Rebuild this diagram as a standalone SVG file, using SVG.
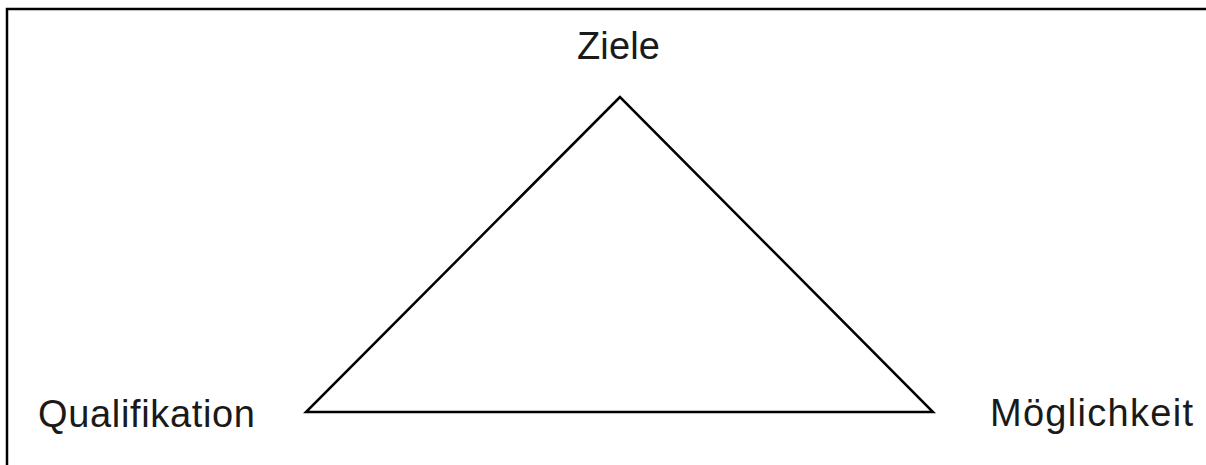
<svg xmlns="http://www.w3.org/2000/svg" width="1206" height="465" viewBox="0 0 1206 465">
<style>
.lbl{font-family:"Liberation Sans",Arial,sans-serif;font-size:38px;fill:#1a1a1a}
.edge{fill:none;stroke:#000;stroke-width:2.5;stroke-linejoin:miter}
</style>
<rect x="0" y="0" width="1206" height="465" fill="#fff"/>
<path d="M7 470 V9 H1210" fill="none" stroke="#000" stroke-width="2.5"/>
<g id="connectors">
<polygon class="edge" points="620,97 306,412 933,412"/>
</g>
<g id="node-ziele"><text class="lbl" x="577" y="59" textLength="83">Ziele</text></g>
<g id="node-qualifikation"><text class="lbl" x="38" y="427" textLength="217">Qualifikation</text></g>
<g id="node-moeglichkeit"><text class="lbl" x="990" y="426" textLength="203">Möglichkeit</text></g>
</svg>
